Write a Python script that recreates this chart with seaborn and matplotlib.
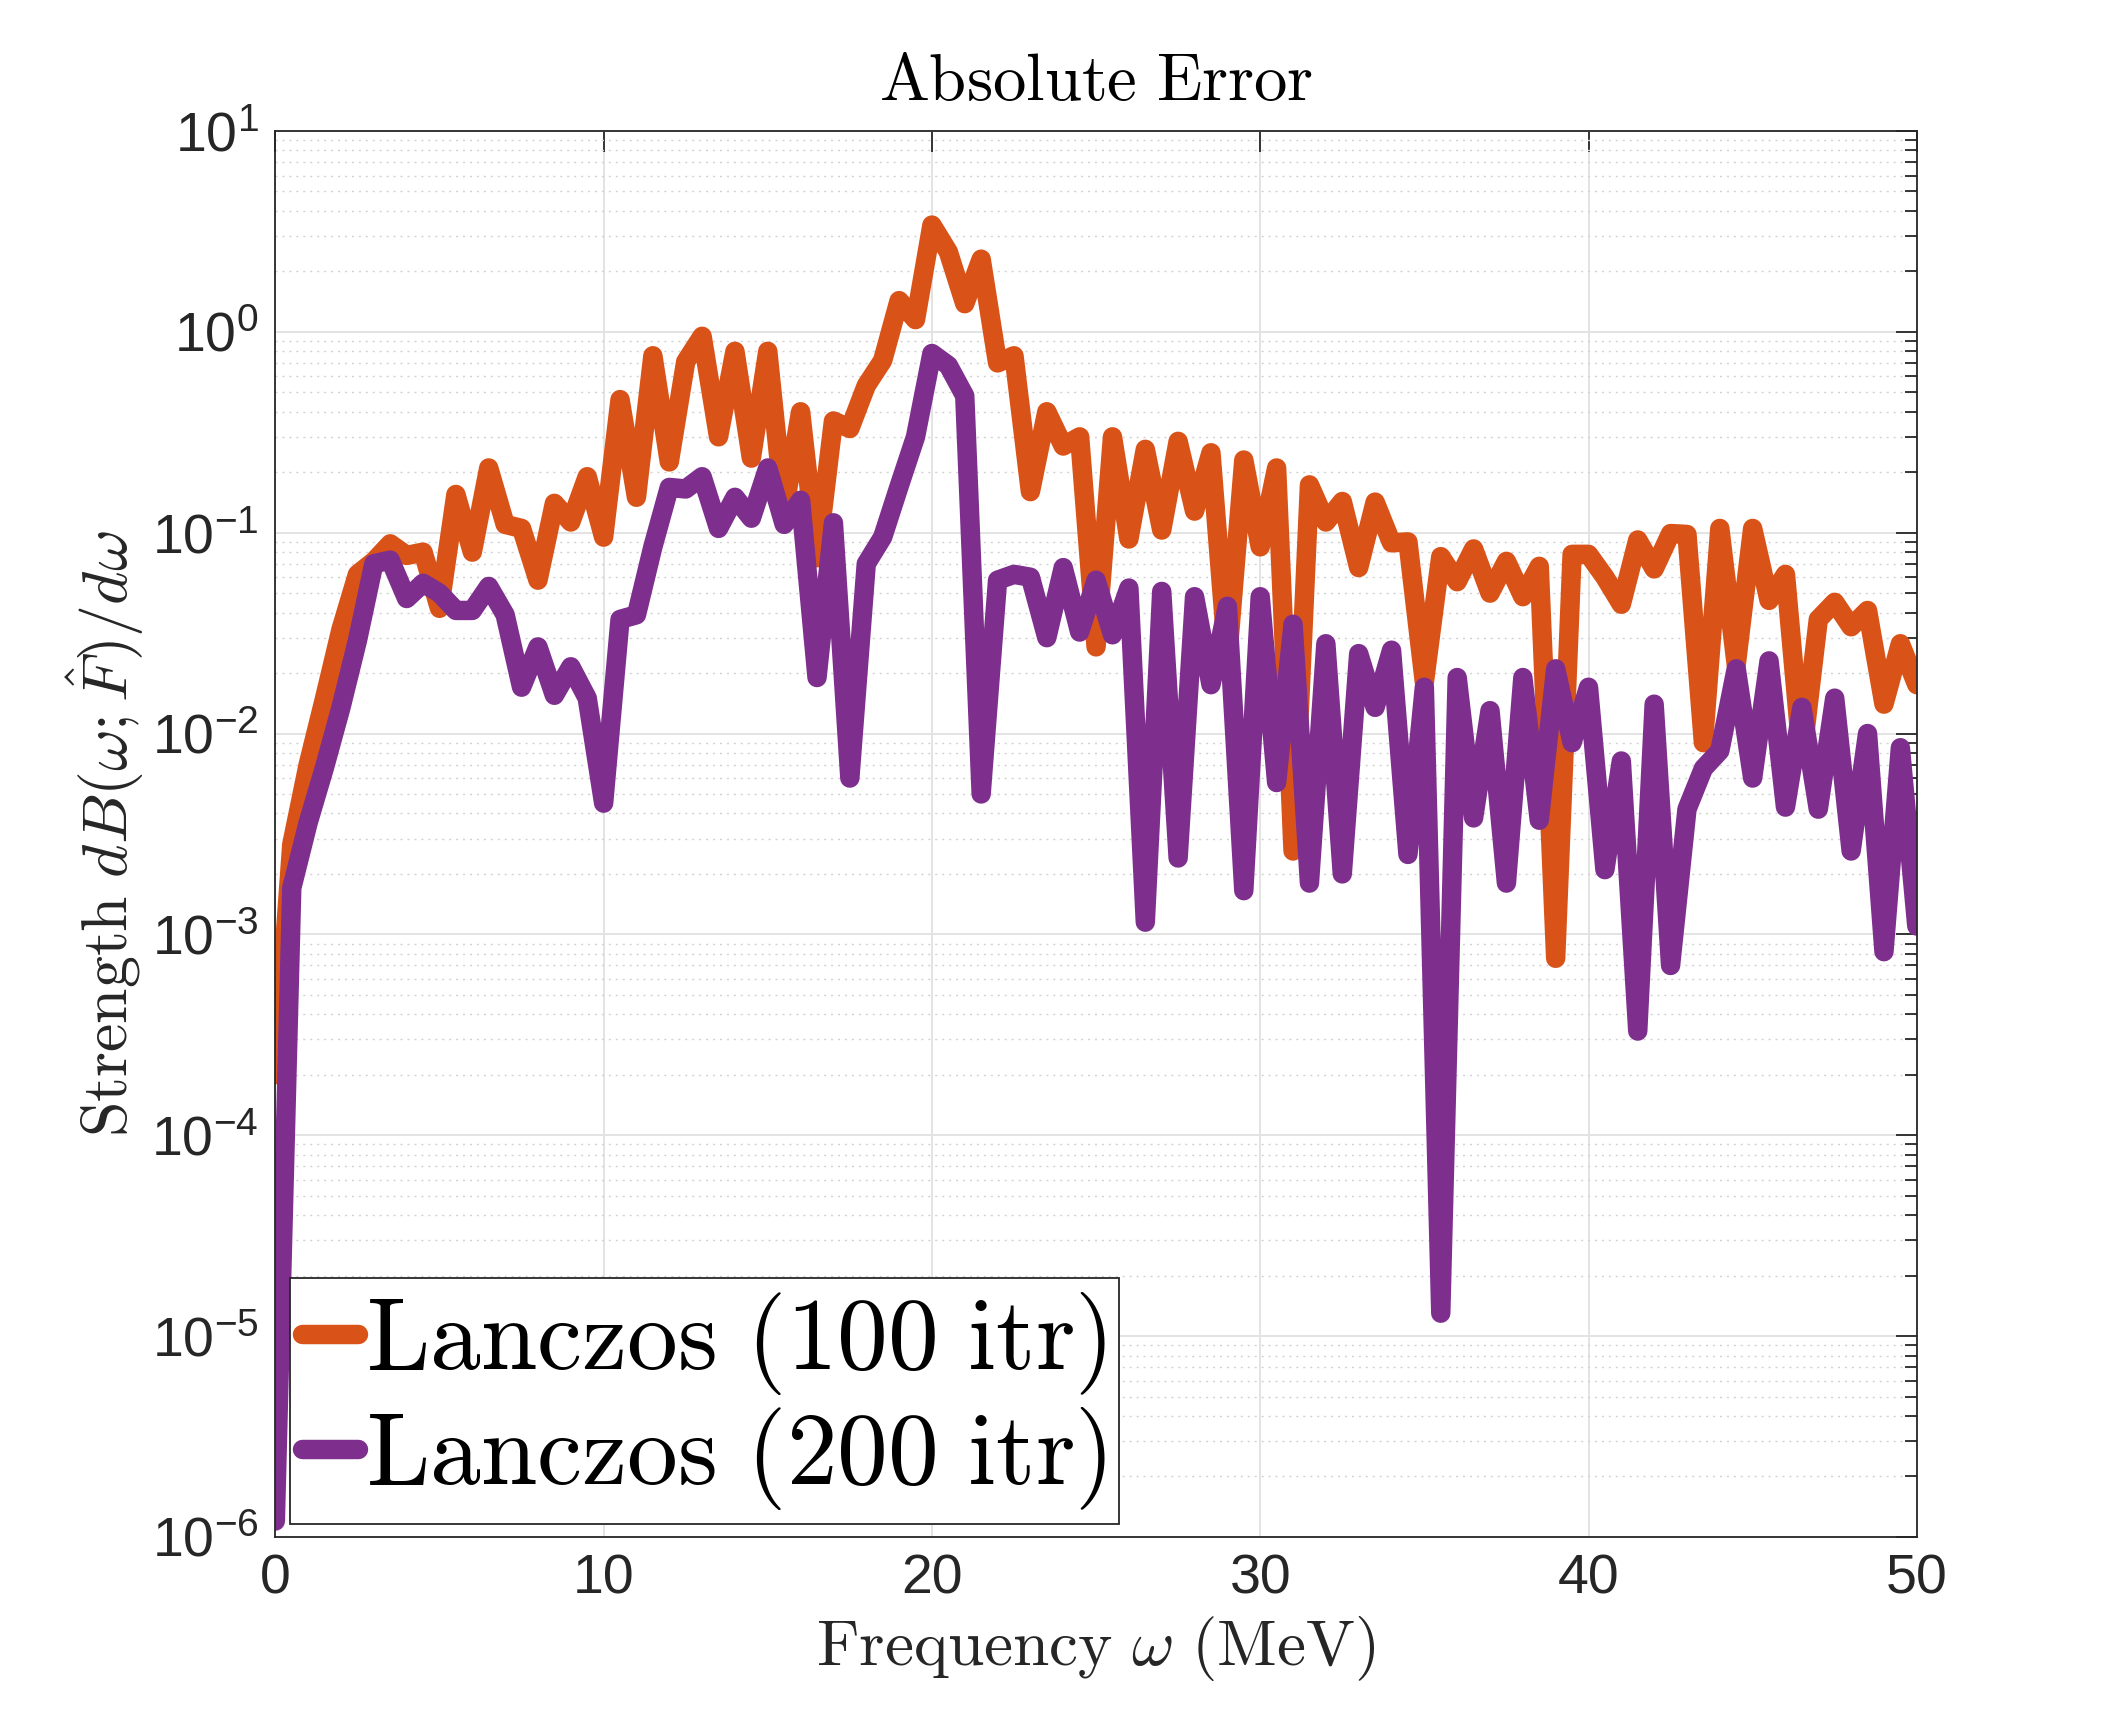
import matplotlib
matplotlib.use("Agg")
import matplotlib.pyplot as plt
import matplotlib.ticker as mticker
import numpy as np
import pandas as pd
import seaborn as sns

# ---------------------------------------------------------------------------
# Data, frequency grid in MeV
# ---------------------------------------------------------------------------
freq = np.arange(0, 50.5, 0.5)

err_100 = [
    2.0e-4, 2.8e-3, 7.0e-3, 0.015, 0.033, 0.062, 0.072, 0.088, 0.077, 0.080,
    0.042, 0.155, 0.080, 0.21, 0.11, 0.105, 0.058, 0.14, 0.113, 0.19,
    0.095, 0.46, 0.15, 0.76, 0.225, 0.71, 0.95, 0.30, 0.80, 0.235,
    0.80, 0.13, 0.40, 0.075, 0.36, 0.33, 0.54, 0.72, 1.43, 1.15,
    3.4, 2.5, 1.38, 2.3, 0.70, 0.76, 0.16, 0.40, 0.27, 0.30,
    0.027, 0.30, 0.093, 0.26, 0.103, 0.285, 0.128, 0.25, 0.023, 0.23,
    0.085, 0.21, 2.6e-3, 0.173, 0.113, 0.143, 0.067, 0.142, 0.089, 0.090,
    0.018, 0.076, 0.057, 0.083, 0.050, 0.072, 0.048, 0.068, 7.6e-4, 0.078,
    0.078, 0.060, 0.044, 0.092, 0.066, 0.099, 0.098, 9.0e-3, 0.105, 0.022,
    0.105, 0.046, 0.062, 7.5e-3, 0.037, 0.045, 0.034, 0.041, 0.014, 0.028,
    0.0175,
]

err_200 = [
    1.2e-6, 1.7e-3, 3.6e-3, 6.8e-3, 0.0135, 0.029, 0.070, 0.073, 0.047, 0.056,
    0.050, 0.041, 0.041, 0.054, 0.039, 0.017, 0.027, 0.0155, 0.0215, 0.015,
    4.5e-3, 0.037, 0.039, 0.085, 0.168, 0.165, 0.19, 0.105, 0.15, 0.118,
    0.21, 0.11, 0.145, 0.019, 0.112, 6.0e-3, 0.070, 0.095, 0.17, 0.30,
    0.78, 0.68, 0.48, 5.0e-3, 0.058, 0.062, 0.060, 0.030, 0.067, 0.032,
    0.058, 0.031, 0.053, 1.15e-3, 0.051, 2.4e-3, 0.048, 0.0175, 0.043, 1.65e-3,
    0.048, 5.7e-3, 0.035, 1.8e-3, 0.028, 2.0e-3, 0.025, 0.0135, 0.026, 2.5e-3,
    0.017, 1.3e-5, 0.019, 3.8e-3, 0.013, 1.8e-3, 0.019, 3.7e-3, 0.021, 9.0e-3,
    0.017, 2.1e-3, 7.3e-3, 3.3e-4, 0.014, 7.0e-4, 4.2e-3, 6.7e-3, 8.2e-3, 0.021,
    6.0e-3, 0.023, 4.3e-3, 0.0135, 4.2e-3, 0.015, 2.6e-3, 0.010, 8.2e-4, 8.5e-3,
    1.1e-3,
]

run_labels = [r"$\mathrm{Lanczos\ (100\ itr)}$", r"$\mathrm{Lanczos\ (200\ itr)}$"]
run_colors = ["#D95319", "#7E2F8E"]

df = pd.DataFrame({
    "freq": np.concatenate([freq, freq]),
    "err": np.concatenate([err_100, err_200]),
    "run": [run_labels[0]] * len(freq) + [run_labels[1]] * len(freq),
})

# ---------------------------------------------------------------------------
# Style (MATLAB-like)
# ---------------------------------------------------------------------------
sns.set_theme(style="white")
plt.rcParams.update({
    "font.family": ["Liberation Sans", "DejaVu Sans"],
    "mathtext.fontset": "custom",
    "mathtext.rm": "Liberation Sans",
    "mathtext.it": "Liberation Sans:italic",
    "mathtext.bf": "Liberation Sans:bold",
    "axes.unicode_minus": False,
    "axes.edgecolor": "#262626",
    "axes.linewidth": 1.3,
})

fig = plt.figure(figsize=(21.18, 17.30), dpi=100)
ax = fig.add_axes([0.130, 0.1116, 0.775, 0.8127])

sns.lineplot(
    data=df, x="freq", y="err", hue="run",
    palette=run_colors, linewidth=14, ax=ax,
)

ax.set_yscale("log")
ax.set_xlim(0, 50)
ax.set_ylim(1e-6, 10)
ax.set_xticks([0, 10, 20, 30, 40, 50])
ax.yaxis.set_major_locator(mticker.LogLocator(base=10, numticks=20))
ax.yaxis.set_minor_locator(
    mticker.LogLocator(base=10, subs=np.arange(2, 10), numticks=20))
ax.yaxis.set_minor_formatter(mticker.NullFormatter())

ax.tick_params(which="both", direction="in", top=True, right=True,
               colors="#262626", labelsize=40, width=1.3)
ax.tick_params(which="major", length=15, pad=12)
ax.tick_params(which="minor", length=9)

ax.xaxis.grid(True, which="major", color="#e3e3e3", linewidth=1.4)
ax.yaxis.grid(True, which="major", color="#e3e3e3", linewidth=1.4)
ax.yaxis.grid(True, which="minor", color="#d2d2d2", linewidth=1.0,
              linestyle=(0, (1.5, 3.5)))
ax.set_axisbelow(True)
for s in ax.spines.values():
    s.set_visible(True)

ax.set_title(r"$\mathrm{Absolute\ Error}$", fontsize=48, pad=22,
             math_fontfamily="cm", color="black")
ax.set_xlabel(r"$\mathrm{Frequency}\ \omega\ \mathrm{(MeV)}$", fontsize=47,
              labelpad=6, math_fontfamily="cm", color="#262626")
ax.set_ylabel(r"$\mathrm{Strength}\ dB(\omega;\hat{F})/d\omega$", fontsize=46,
              labelpad=4, math_fontfamily="cm", color="#262626")

handles, labels = ax.get_legend_handles_labels()
leg = ax.legend(
    handles, labels, loc="lower left", bbox_to_anchor=(0.009, 0.009),
    fontsize=73, frameon=True, fancybox=False, framealpha=1.0,
    edgecolor="#262626", handlelength=0.55, handletextpad=0.08,
    borderpad=0.12, labelspacing=0.08, borderaxespad=0.0,
)
leg.get_frame().set_linewidth(1.3)
for t in leg.get_texts():
    t.set_math_fontfamily("cm")
    t.set_color("black")
for h in leg.get_lines():
    h.set_linewidth(14)

fig.savefig("out.png", dpi=100)
plt.close(fig)
